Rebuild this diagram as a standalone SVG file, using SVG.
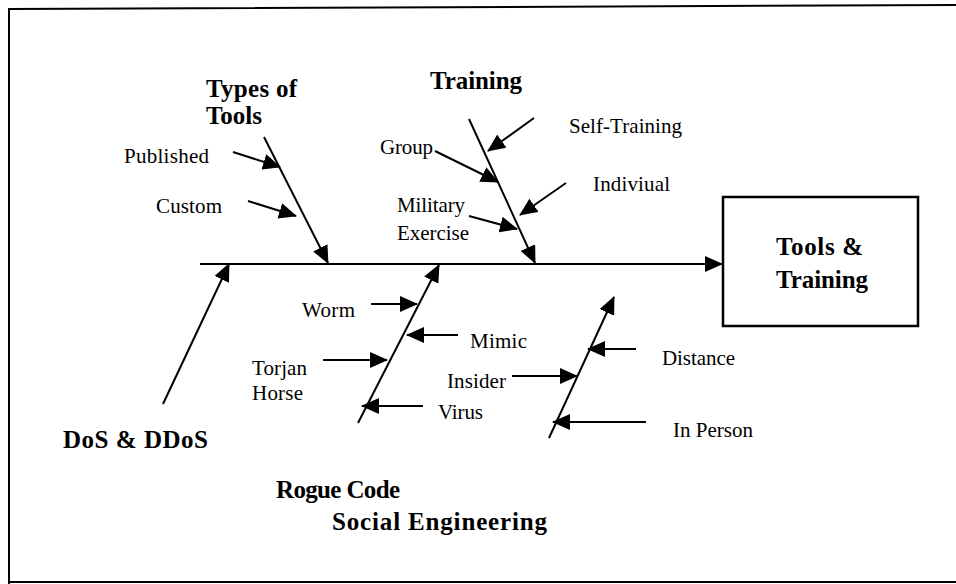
<svg xmlns="http://www.w3.org/2000/svg" width="956" height="584" viewBox="0 0 956 584">
<defs>
<style>
.ln{stroke:#000;stroke-width:2;fill:none}
.ar{stroke:#000;stroke-width:2;fill:none;marker-end:url(#ah)}
.t{font-family:"Liberation Serif","Times New Roman",serif;font-size:21px;fill:#000}
.b{font-family:"Liberation Serif","Times New Roman",serif;font-size:25px;font-weight:bold;fill:#000}
</style>
<marker id="ah" viewBox="0 0 18 16" refX="17" refY="8" markerWidth="18" markerHeight="16" orient="auto" markerUnits="userSpaceOnUse">
<path d="M0,0 L18,8 L0,16 z" fill="#000"/>
</marker>
</defs>
<rect width="956" height="584" fill="#fff"/>
<g id="frame">
<path class="ln" d="M9,584 V9 L956,5" stroke-width="2.5"/>
<path class="ln" d="M9,582 H956" stroke-width="2.5"/>
</g>
<g id="connectors">
<line class="ar" x1="200" y1="264" x2="722" y2="264"/>
<line class="ar" x1="264" y1="137" x2="328" y2="263"/>
<line class="ar" x1="233" y1="152" x2="280" y2="167"/>
<line class="ar" x1="248" y1="201" x2="296" y2="216"/>
<line class="ar" x1="469" y1="119" x2="535" y2="263"/>
<line class="ar" x1="534" y1="118" x2="488" y2="151"/>
<line class="ar" x1="435" y1="151" x2="498" y2="182"/>
<line class="ar" x1="566" y1="183" x2="520" y2="215"/>
<line class="ar" x1="469" y1="216" x2="517" y2="229"/>
<line class="ar" x1="358" y1="423" x2="439" y2="265"/>
<line class="ar" x1="371" y1="304" x2="417" y2="304"/>
<line class="ar" x1="458" y1="335" x2="407" y2="335"/>
<line class="ar" x1="323" y1="360" x2="387" y2="360"/>
<line class="ar" x1="423" y1="406" x2="362" y2="406"/>
<line class="ar" x1="549" y1="438" x2="614" y2="297"/>
<line class="ar" x1="636" y1="349" x2="588" y2="349"/>
<line class="ar" x1="512" y1="376" x2="577" y2="376"/>
<line class="ar" x1="646" y1="422" x2="553" y2="422"/>
<line class="ar" x1="163" y1="404" x2="229" y2="264"/>
</g>
<g id="result">
<rect x="723" y="197" width="195" height="129" fill="#fff" stroke="#000" stroke-width="2.5"/>
<text class="b" x="776" y="255" textLength="87" lengthAdjust="spacing">Tools &amp;</text>
<text class="b" x="776" y="288" textLength="92" lengthAdjust="spacing">Training</text>
</g>
<g id="types-of-tools">
<text class="b" x="206" y="97" textLength="91" lengthAdjust="spacing">Types of</text>
<text class="b" x="206" y="124" textLength="56" lengthAdjust="spacing">Tools</text>
<text class="t" x="124" y="163" textLength="85" lengthAdjust="spacing">Published</text>
<text class="t" x="156" y="213" textLength="66" lengthAdjust="spacing">Custom</text>
</g>
<g id="training">
<text class="b" x="430" y="89" textLength="92" lengthAdjust="spacing">Training</text>
<text class="t" x="380" y="154" textLength="53" lengthAdjust="spacing">Group</text>
<text class="t" x="569" y="133" textLength="113" lengthAdjust="spacing">Self-Training</text>
<text class="t" x="593" y="191" textLength="77" lengthAdjust="spacing">Indiviual</text>
<text class="t" x="397" y="212" textLength="68" lengthAdjust="spacing">Military</text>
<text class="t" x="397" y="240" textLength="72" lengthAdjust="spacing">Exercise</text>
</g>
<g id="rogue-code">
<text class="t" x="302" y="317" textLength="53" lengthAdjust="spacing">Worm</text>
<text class="t" x="470" y="348" textLength="57" lengthAdjust="spacing">Mimic</text>
<text class="t" x="252" y="375" textLength="55" lengthAdjust="spacing">Torjan</text>
<text class="t" x="252" y="400" textLength="51" lengthAdjust="spacing">Horse</text>
<text class="t" x="438" y="419" textLength="45" lengthAdjust="spacing">Virus</text>
<text class="b" x="276" y="498" textLength="124" lengthAdjust="spacing">Rogue Code</text>
</g>
<g id="social-engineering">
<text class="t" x="662" y="365" textLength="73" lengthAdjust="spacing">Distance</text>
<text class="t" x="447" y="388" textLength="59" lengthAdjust="spacing">Insider</text>
<text class="t" x="673" y="437" textLength="80" lengthAdjust="spacing">In Person</text>
<text class="b" x="332" y="530" textLength="215" lengthAdjust="spacing">Social Engineering</text>
</g>
<g id="dos">
<text class="b" x="63" y="448" textLength="145" lengthAdjust="spacing">DoS &amp; DDoS</text>
</g>
</svg>
